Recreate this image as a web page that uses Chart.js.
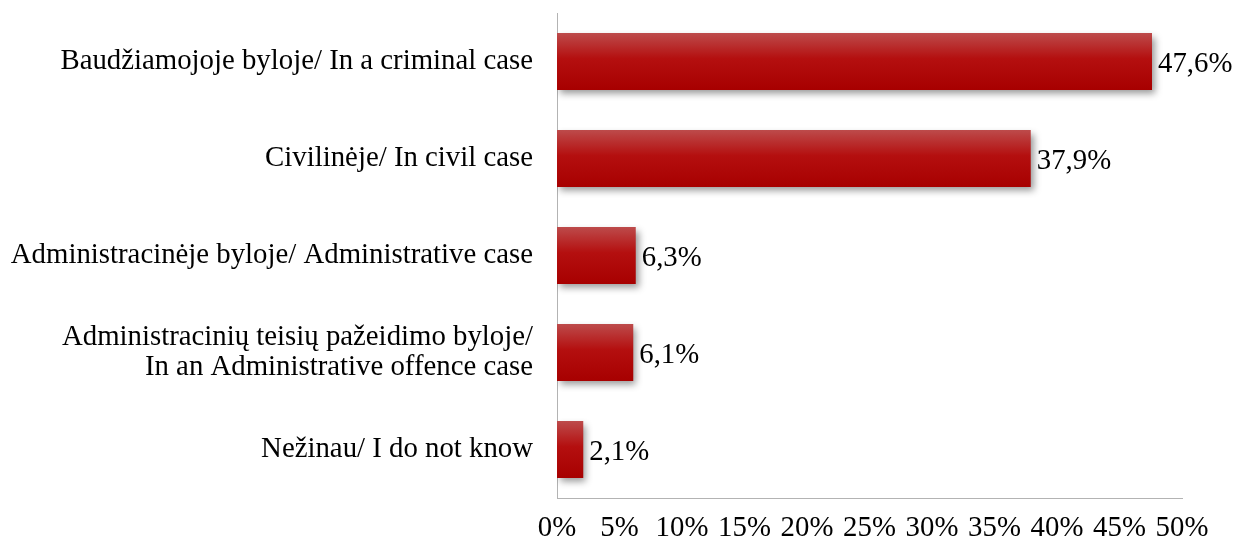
<!DOCTYPE html>
<html>
<head>
<meta charset="utf-8">
<script src="https://cdn.jsdelivr.net/npm/chart.js@4"></script>
<style>
  html, body { margin: 0; padding: 0; background: #fff; }
  #wrap { width: 1233px; height: 546px; }
</style>
</head>
<body>
<div id="wrap"><canvas id="myChart" width="1233" height="546"></canvas></div>
<script>
// data
const categories = [
  "Baudžiamojoje byloje/ In a criminal case",
  "Civilinėje/ In civil case",
  "Administracinėje byloje/ Administrative case",
  ["Administracinių teisių pažeidimo byloje/", "In an Administrative offence case"],
  "Nežinau/ I do not know"
];
const shares = [47.6, 37.9, 6.3, 6.1, 2.1];
const valueLabels = ["47,6%", "37,9%", "6,3%", "6,1%", "2,1%"];
const xTicks = [0, 5, 10, 15, 20, 25, 30, 35, 40, 45, 50];

const serif = "'Liberation Serif', 'Times New Roman', serif";
const fontSize = 28.8;
const barHalf = 28.5;

// red bar fill, lighter on top
function barFill(context) {
  const chart = context.chart;
  const yScale = chart.scales.y;
  const fallback = "#b30d0d";
  if (!yScale || context.dataIndex === undefined) return fallback;
  const c = yScale.getPixelForValue(context.dataIndex);
  if (!isFinite(c)) return fallback;
  const g = chart.ctx.createLinearGradient(0, c - barHalf, 0, c + barHalf);
  g.addColorStop(0, "#bd4b4b");
  g.addColorStop(0.45, "#b40f0f");
  g.addColorStop(1, "#a70000");
  return g;
}

// soft shadow under bars
const barShadow = {
  id: "barShadow",
  beforeDatasetDraw(chart) {
    const ctx = chart.ctx;
    ctx.save();
    ctx.shadowColor = "rgba(0,0,0,0.4)";
    ctx.shadowBlur = 7;
    ctx.shadowOffsetX = 3;
    ctx.shadowOffsetY = 4;
  },
  afterDatasetDraw(chart) {
    chart.ctx.restore();
  }
};

// value text right of each bar
const valueText = {
  id: "valueText",
  afterDatasetsDraw(chart) {
    const ctx = chart.ctx;
    const meta = chart.getDatasetMeta(0);
    ctx.save();
    ctx.font = fontSize + "px " + serif;
    ctx.fillStyle = "#000";
    ctx.textAlign = "left";
    ctx.textBaseline = "middle";
    meta.data.forEach((bar, i) => {
      ctx.fillText(valueLabels[i], bar.x + 6, bar.y + 3);
    });
    ctx.restore();
  }
};

new Chart(document.getElementById("myChart").getContext("2d"), {
  type: "bar",
  data: {
    labels: categories,
    datasets: [{
      data: shares,
      backgroundColor: barFill,
      borderWidth: 0,
      categoryPercentage: 1,
      barPercentage: 0.59
    }]
  },
  options: {
    indexAxis: "y",
    responsive: false,
    animation: false,
    layout: { padding: { top: 13, right: 51, bottom: 0, left: 0 } },
    plugins: { legend: { display: false }, tooltip: { enabled: false } },
    scales: {
      x: {
        min: 0,
        max: 50,
        afterBuildTicks(scale) { scale.ticks = xTicks.map(v => ({ value: v })); },
        afterFit(scale) {
          scale.height = 48;
          scale.paddingLeft = 0;
          scale.paddingRight = 0;
        },
        grid: { display: false, drawTicks: false },
        border: { color: "#b3b3b3", width: 1 },
        ticks: {
          color: "#000",
          font: { family: serif, size: fontSize },
          padding: 13,
          maxRotation: 0,
          autoSkip: false,
          callback: v => v + "%"
        }
      },
      y: {
        afterFit(scale) {
          scale.width = 557;
          scale.paddingTop = 0;
          scale.paddingBottom = 0;
        },
        grid: { display: false, drawTicks: false },
        border: { color: "#b3b3b3", width: 1 },
        ticks: {
          color: "#000",
          font: { family: serif, size: fontSize, lineHeight: 1.07 },
          padding: 24,
          autoSkip: false
        }
      }
    }
  },
  plugins: [barShadow, valueText]
});
</script>
</body>
</html>
